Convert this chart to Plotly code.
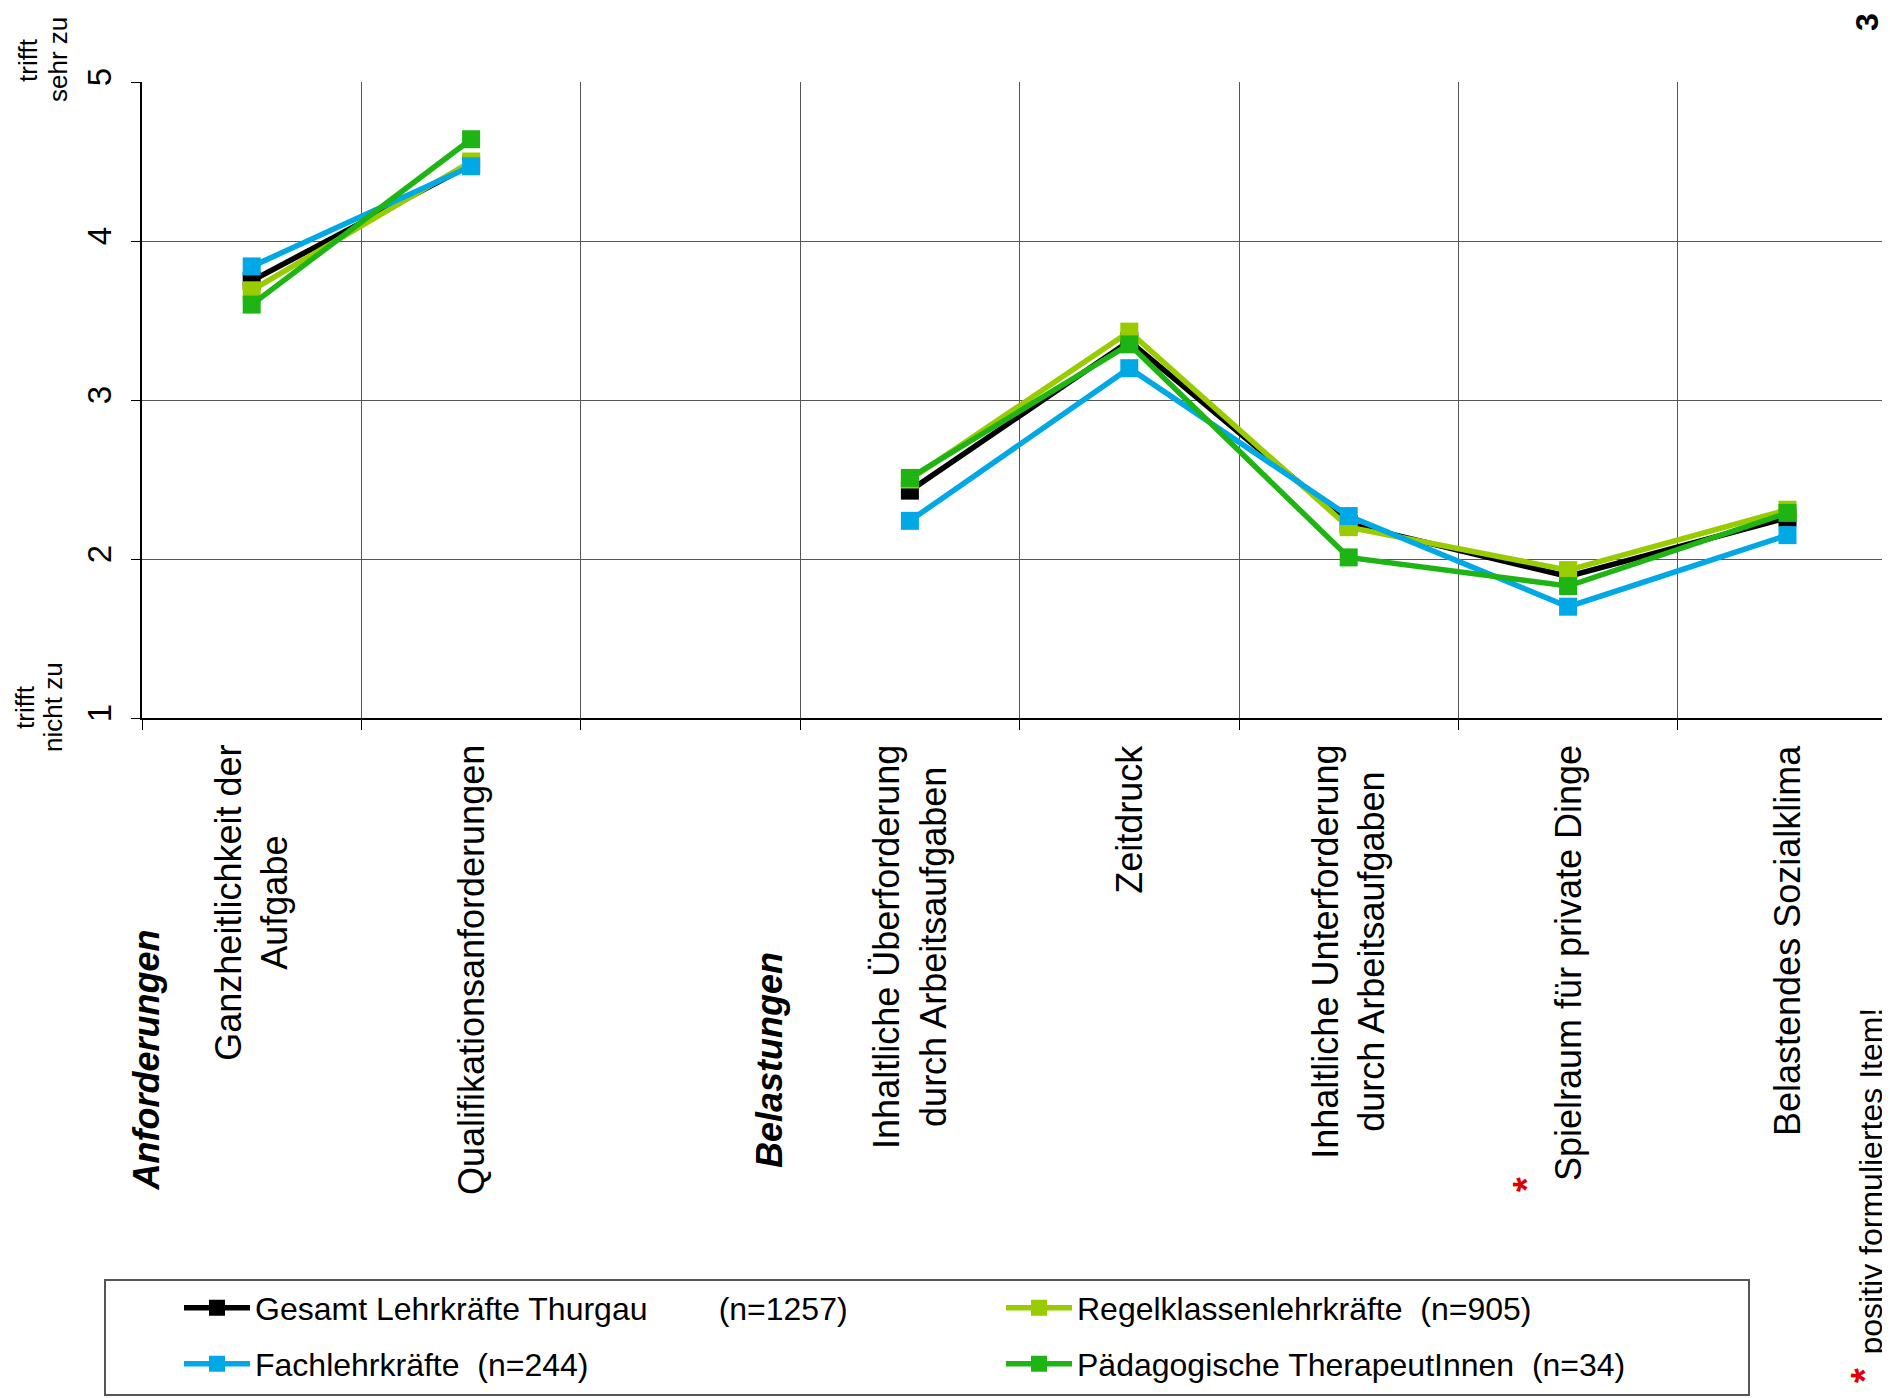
import plotly.graph_objects as go

# ---- data ----
categories = [
    "Ganzheitlichkeit der<br>Aufgabe",
    "Qualifikationsanforderungen",
    "",
    "Inhaltliche Überforderung<br>durch Arbeitsaufgaben",
    "Zeitdruck",
    "Inhaltliche Unterforderung<br>durch Arbeitsaufgaben",
    "Spielraum für private Dinge",
    "Belastendes Sozialklima",
]
gesamt = [3.75, 4.48, None, 2.43, 3.37, 2.22, 1.89, 2.26]
fach = [3.84, 4.47, None, 2.24, 3.20, 2.27, 1.70, 2.15]
regel = [3.69, 4.50, None, 2.50, 3.43, 2.20, 1.93, 2.31]
paed = [3.60, 4.64, None, 2.51, 3.35, 2.01, 1.83, 2.29]

series_names = [
    "Gesamt Lehrkräfte Thurgau" + "\u00a0" * 8 + "(n=1257)",
    "Regelklassenlehrkräfte\u00a0\u00a0(n=905)",
    "Fachlehrkräfte\u00a0\u00a0(n=244)",
    "Pädagogische TherapeutInnen\u00a0\u00a0(n=34)",
]
y_ticks = [1, 2, 3, 4, 5]

# ---- layout geometry (pixels, page has an 8px body margin) ----
OFF = 8
W, H = 1890 - OFF, 1398 - OFF
L, T = 142 - OFF, 82 - OFF
PB = 718 - OFF  # bottom of plot area (figure coords)
R = 0
PW = W - L - R
PH = PB - T
CAT_W = 219.4
FONT = "Arial, Liberation Sans, sans-serif"


def px(x):
    """screen x of the reference -> paper x"""
    return (x - OFF - L) / PW


def py(y):
    """screen y of the reference -> paper y"""
    return (PB - (y - OFF)) / PH


xs = list(range(len(categories)))

fig = go.Figure()
styles = [
    (gesamt, series_names[0], "#000000", "legend"),
    (regel, series_names[1], "#99CC00", "legend"),
    (fach, series_names[2], "#00A8E6", "legend2"),
    (paed, series_names[3], "#1EB414", "legend2"),
]
for vals, name, col, lg in styles:
    fig.add_trace(go.Scatter(
        x=xs, y=vals, name=name, mode="lines+markers",
        line=dict(color=col, width=5.5),
        marker=dict(symbol="square", size=18, color=col),
        connectgaps=False, legend=lg,
    ))

x_end = -0.5 + PW / CAT_W
bounds = [i - 0.5 for i in range(len(categories) + 1)]

fig.update_xaxes(
    range=[-0.5, x_end], tickvals=bounds, showticklabels=False,
    ticks="outside", ticklen=10, tickcolor="#000", tickwidth=1,
    showgrid=True, gridcolor="#555555", gridwidth=1,
    showline=True, linecolor="#000", linewidth=1.5, zeroline=False,
    automargin=False,
)
fig.update_yaxes(
    range=[1, 5], tickvals=y_ticks, ticktext=[str(v) for v in y_ticks],
    tickangle=-90, ticks="outside", ticklen=9, tickcolor="#000",
    ticklabelstandoff=7,
    tickfont=dict(family=FONT, size=33, color="#000"),
    showgrid=True, gridcolor="#555555", gridwidth=1,
    showline=True, linecolor="#000", linewidth=1.5, zeroline=False,
    automargin=False,
)

ann = []
for i, lab in enumerate(categories):
    if not lab:
        continue
    ann.append(dict(
        x=i, xref="x", y=py(743), yref="paper", text=lab, showarrow=False,
        textangle=-90, xanchor="center", yanchor="top", align="center",
        font=dict(family=FONT, size=36, color="#000"),
    ))

# group headings
ann.append(dict(x=px(146), y=py(1193), xref="paper", yref="paper",
                text="<b><i>Anforderungen</i></b>", showarrow=False, textangle=-90,
                xanchor="center", yanchor="bottom",
                font=dict(family=FONT, size=36, color="#000")))
ann.append(dict(x=px(769), y=py(1170), xref="paper", yref="paper",
                text="<b><i>Belastungen</i></b>", showarrow=False, textangle=-90,
                xanchor="center", yanchor="bottom",
                font=dict(family=FONT, size=36, color="#000")))


def side_label(text, x, y):
    ann.append(dict(x=px(x), y=py(y), xref="paper", yref="paper",
                    text=text, showarrow=False, textangle=-90,
                    xanchor="center", yanchor="middle",
                    font=dict(family=FONT, size=26, color="#000")))


# y-axis verbal anchors (one annotation per line for tighter spacing)
side_label("trifft", 28, 60)
side_label("sehr zu", 58, 60)
side_label("trifft", 25, 707)
side_label("nicht zu", 53, 707)

# page number
ann.append(dict(x=px(1867), y=py(22), xref="paper", yref="paper",
                text="<b>3</b>", showarrow=False, textangle=-90,
                xanchor="center", yanchor="middle",
                font=dict(family=FONT, size=32, color="#000")))

# asterisks and footnote
ann.append(dict(x=px(1527), y=py(1185), xref="paper", yref="paper",
                text="<b>*</b>", showarrow=False, textangle=-90,
                xanchor="center", yanchor="middle",
                font=dict(family=FONT, size=38, color="#E00000")))
ann.append(dict(x=px(1865), y=py(1376), xref="paper", yref="paper",
                text="<b>*</b>", showarrow=False, textangle=-90,
                xanchor="center", yanchor="middle",
                font=dict(family=FONT, size=38, color="#E00000")))
ann.append(dict(x=px(1890), y=py(1357), xref="paper", yref="paper",
                text="positiv formuliertes Item!", showarrow=False, textangle=-90,
                xanchor="right", yanchor="bottom",
                font=dict(family=FONT, size=32, color="#000")))

# legend frame
shapes = [dict(type="rect", xref="paper", yref="paper",
               x0=px(105), x1=px(1749), y0=py(1395), y1=py(1280),
               line=dict(color="#555", width=2), fillcolor="rgba(0,0,0,0)")]

leg_common = dict(
    orientation="h", xanchor="left", yanchor="middle",
    entrywidth=741, entrywidthmode="pixels", itemwidth=66,
    font=dict(family=FONT, size=32, color="#000"),
    bgcolor="rgba(0,0,0,0)", borderwidth=0, traceorder="normal",
)

fig.update_layout(
    width=W, height=H,
    margin=dict(l=L, r=R, t=T, b=H - PB, pad=0, autoexpand=False),
    paper_bgcolor="#fff", plot_bgcolor="#fff",
    font=dict(family=FONT, color="#000"),
    annotations=ann, shapes=shapes,
    showlegend=True,
    legend=dict(x=px(179), y=py(1308), **leg_common),
    legend2=dict(x=px(179), y=py(1364), **leg_common),
)

fig.write_html("out.html")
